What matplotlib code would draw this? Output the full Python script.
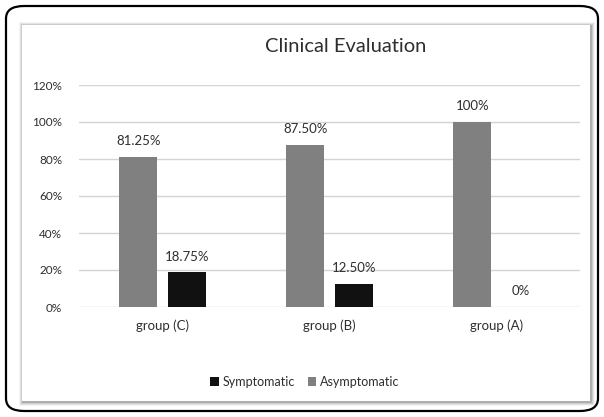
import matplotlib
matplotlib.use("Agg")
import matplotlib.pyplot as plt
from matplotlib.patches import FancyBboxPatch, Rectangle, Patch
import numpy as np

categories = ["group (C)", "group (B)", "group (A)"]
asymptomatic = [81.25, 87.50, 100.0]
symptomatic = [18.75, 12.50, 0.0]
asym_labels = ["81.25%", "87.50%", "100%"]
sym_labels = ["18.75%", "12.50%", "0%"]
yticks = [0, 20, 40, 60, 80, 100, 120]
ytick_labels = ["0%", "20%", "40%", "60%", "80%", "100%", "120%"]

plt.rcParams['font.family'] = ['Lato', 'DejaVu Sans']
txt = "#2e2e2e"
W, H = 604, 417
fig = plt.figure(figsize=(W / 100, H / 100), dpi=100)
fig.patch.set_facecolor("white")

# inner panel shadow + panel
px0, py0, px1, py1 = 22, 25, 590, 401
for i, a in enumerate([0.04, 0.07, 0.10, 0.14]):
    d = 4 - i
    fig.patches.append(Rectangle(((px0 - d + 1) / W, 1 - (py1 + d + 1) / H), (px1 - px0 + 2 * d) / W,
                                 (py1 - py0 + 2 * d) / H, transform=fig.transFigure,
                                 facecolor="black", alpha=a, edgecolor="none", zorder=0))
fig.patches.append(Rectangle((px0 / W, 1 - py1 / H), (px1 - px0) / W, (py1 - py0) / H,
                             transform=fig.transFigure, facecolor="white",
                             edgecolor="none", zorder=0.5))
# outer rounded frame
fig.patches.append(FancyBboxPatch((6 / W, 6 / H), (W - 12) / W, (H - 12) / H,
                                  boxstyle="round,pad=0,rounding_size=0.03",
                                  transform=fig.transFigure, facecolor="none",
                                  edgecolor="black", linewidth=1.6, zorder=3))

ax = fig.add_axes([79 / W, 1 - 307 / H, (580 - 79) / W, (307 - 85) / H])
ax.set_zorder(1)
ax.set_facecolor("none")
x = np.arange(len(categories))
bw = 0.225
off = 0.145
ax.bar(x - off, asymptomatic, bw, color="#808080", zorder=2)
ax.bar(x + off, symptomatic, bw, color="#111111", zorder=2)
for xi, v, lab in zip(x - off, asymptomatic, asym_labels):
    ax.annotate(lab, (xi, v), xytext=(0, 7), textcoords="offset points",
                ha="center", va="bottom", fontsize=9.5, color=txt)
for xi, v, lab in zip(x + off, symptomatic, sym_labels):
    ax.annotate(lab, (xi, v), xytext=(0, 7), textcoords="offset points",
                ha="center", va="bottom", fontsize=9.5, color=txt)

ax.set_xlim(-0.5, len(categories) - 0.5)
ax.set_ylim(0, 120)
ax.set_yticks(yticks)
ax.set_yticklabels(ytick_labels, fontsize=8.5, color=txt)
ax.set_xticks(x)
ax.set_xticklabels(categories, fontsize=9.5, color=txt)
ax.tick_params(length=0)
ax.tick_params(axis="y", pad=12)
ax.tick_params(axis="x", pad=9)
ax.grid(axis="y", color="#d4d4d4", linewidth=1, zorder=0)
for s in ax.spines.values():
    s.set_visible(False)

fig.text(346 / W, 1 - 47 / H, "Clinical Evaluation", ha="center", va="center",
         fontsize=14.5, color=txt)

handles = [Patch(facecolor="#111111"), Patch(facecolor="#808080")]
fig.legend(handles, ["Symptomatic", "Asymptomatic"], loc="center",
           bbox_to_anchor=(305 / W, 1 - 382 / H), ncol=2, frameon=False,
           fontsize=9, handlelength=0.7, handleheight=0.7, handletextpad=0.3,
           columnspacing=1.0, labelcolor=txt)

fig.savefig("out.png", dpi=100)
